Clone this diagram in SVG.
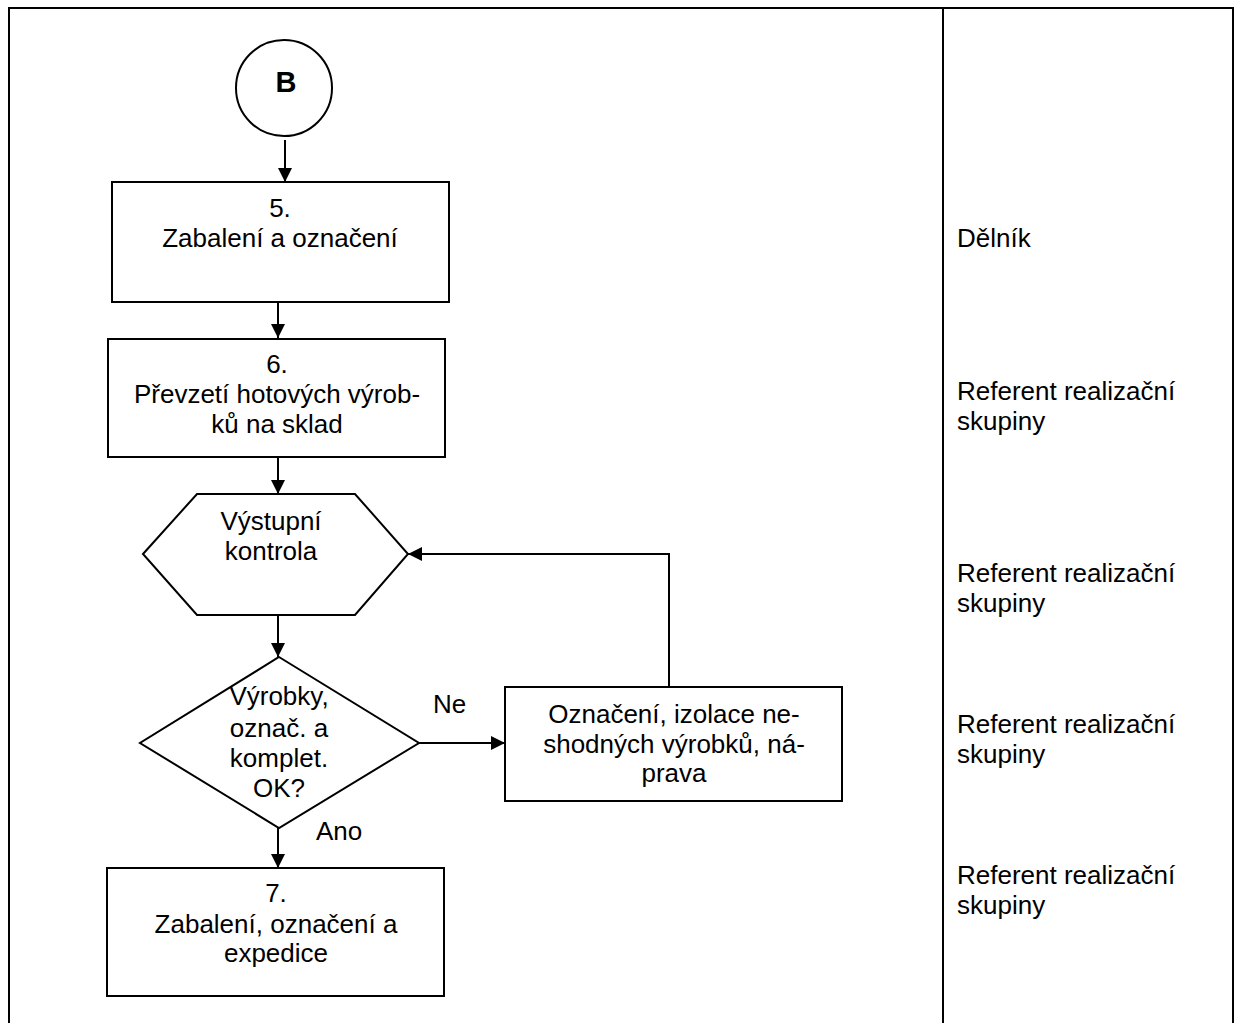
<svg xmlns="http://www.w3.org/2000/svg" width="1237" height="1023" viewBox="0 0 1237 1023">
<defs>
<marker id="arr" viewBox="0 0 14 14" refX="14" refY="7" markerWidth="14" markerHeight="14" markerUnits="userSpaceOnUse" orient="auto">
<path d="M0,0 L14,7 L0,14 z" fill="#000"/>
</marker>
</defs>
<style>
.frame{fill:none;stroke:#000;stroke-width:2}
.shape{fill:#fff;stroke:#000;stroke-width:2}
.con{fill:none;stroke:#000;stroke-width:2;marker-end:url(#arr)}
text{font-family:"Liberation Sans",Arial,sans-serif;font-size:26px;fill:#000}
.c{text-anchor:middle}
.b{font-weight:bold;font-size:29px}
</style>
<rect width="1237" height="1023" fill="#fff"/>
<g id="frame">
<path class="frame" d="M9,1023 V8 H1233 V1023 M943,8 V1023"/>
</g>
<g id="roles">
<text x="957" y="247">Dělník</text>
<text x="957" y="400">Referent realizační</text>
<text x="957" y="430">skupiny</text>
<text x="957" y="582">Referent realizační</text>
<text x="957" y="612">skupiny</text>
<text x="957" y="733">Referent realizační</text>
<text x="957" y="763">skupiny</text>
<text x="957" y="884">Referent realizační</text>
<text x="957" y="914">skupiny</text>
</g>
<g id="connectors">
<path class="con" d="M285,140 V182"/>
<path class="con" d="M278,302 V338"/>
<path class="con" d="M278,457 V494"/>
<path class="con" d="M278,615 V657"/>
<path class="con" d="M419,743 H505"/>
<path class="con" d="M278,828 V868"/>
<path class="con" d="M669,687 V554 H408"/>
<text x="433" y="713">Ne</text>
<text x="316" y="840">Ano</text>
</g>
<g id="nodeB">
<circle class="shape" cx="284" cy="88" r="48"/>
<text class="c b" x="286" y="92">B</text>
</g>
<g id="node5">
<rect class="shape" x="112" y="182" width="337" height="120"/>
<text class="c" x="280" y="217">5.</text>
<text class="c" x="280" y="247">Zabalení a označení</text>
</g>
<g id="node6">
<rect class="shape" x="108" y="339" width="337" height="118"/>
<text class="c" x="277" y="373">6.</text>
<text class="c" x="277" y="403">Převzetí hotových výrob-</text>
<text class="c" x="277" y="433">ků na sklad</text>
</g>
<g id="nodeKontrola">
<polygon class="shape" points="143,554 197,494 355,494 408,554 355,615 197,615"/>
<text class="c" x="271" y="530">Výstupní</text>
<text class="c" x="271" y="560">kontrola</text>
</g>
<g id="nodeDecision">
<polygon class="shape" points="279,657 419,743 279,828 140,743"/>
<text class="c" x="279" y="705">Výrobky,</text>
<text class="c" x="279" y="737">označ. a</text>
<text class="c" x="279" y="767">komplet.</text>
<text class="c" x="279" y="797">OK?</text>
</g>
<g id="nodeNaprava">
<rect class="shape" x="505" y="687" width="337" height="114"/>
<text class="c" x="674" y="723">Označení, izolace ne-</text>
<text class="c" x="674" y="753">shodných výrobků, ná-</text>
<text class="c" x="674" y="782">prava</text>
</g>
<g id="node7">
<rect class="shape" x="107" y="868" width="337" height="128"/>
<text class="c" x="276" y="902">7.</text>
<text class="c" x="276" y="933">Zabalení, označení a</text>
<text class="c" x="276" y="962">expedice</text>
</g>
</svg>
